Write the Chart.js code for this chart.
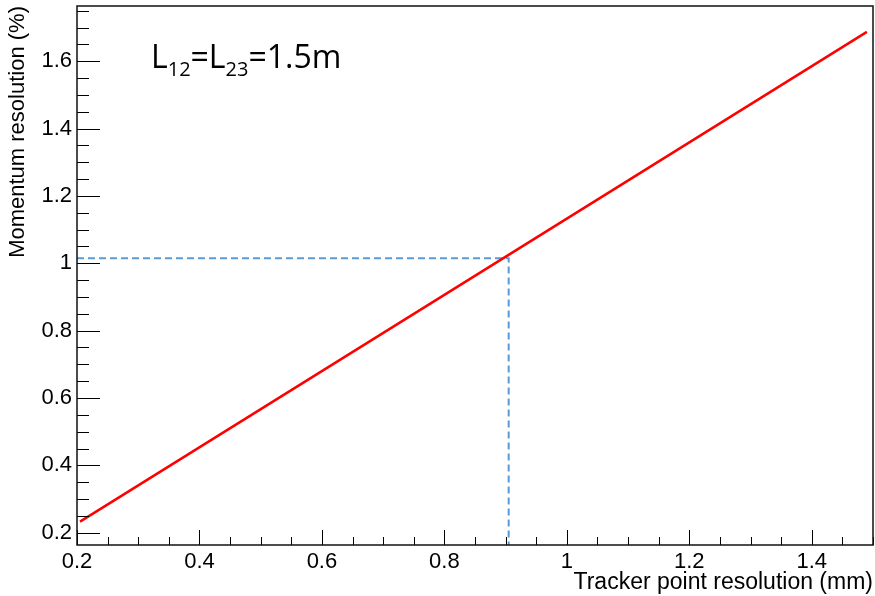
<!DOCTYPE html>
<html>
<head>
<meta charset="utf-8">
<script src="https://cdn.jsdelivr.net/npm/chart.js@4.4.1/dist/chart.umd.min.js"></script>
<style>
  body { margin: 0; background: #fff; }
  #wrap { width: 875px; height: 596px; }
</style>
</head>
<body>
<div id="wrap"><canvas id="resChart" width="875" height="596"></canvas></div>
<script>
// axis ranges and tick labels
const xRange = [0.2, 1.5];
const yRange = [0.1635, 1.764];
const xTicks = [0.2, 0.4, 0.6, 0.8, 1, 1.2, 1.4];
const yTicks = [0.2, 0.4, 0.6, 0.8, 1, 1.2, 1.4, 1.6];
const minorStep = 0.05;

// momentum resolution vs tracker point resolution
const trackerRes = [0.205, 1.49];
const momentumRes = [0.233, 1.687];

// marker lines for the 1% working point
const markX = [0.2, 0.905, 0.905];
const markY = [1.015, 1.015, 0.1635];

const font = "'Liberation Sans', Arial, Helvetica, sans-serif";

function toPoints(xs, ys) {
    return xs.map((x, i) => ({ x: x, y: ys[i] }));
}

// ROOT style: frame plus ticks pointing into the plot
const frameTicks = {
    id: 'frameTicks',
    afterDatasetsDraw(chart) {
        const ctx = chart.ctx;
        const a = chart.chartArea;
        const xs = chart.scales.x, ys = chart.scales.y;
        ctx.save();
        ctx.strokeStyle = '#000';
        ctx.lineWidth = 1;
        for (let v = xRange[0]; v <= xRange[1] + 1e-9; v += minorStep) {
            const major = xTicks.some(t => Math.abs(t - v) < 1e-6);
            const px = Math.round(xs.getPixelForValue(v)) + 0.5;
            const len = major ? 15 : 8;
            ctx.beginPath();
            ctx.moveTo(px, a.bottom);
            ctx.lineTo(px, a.bottom - len);
            ctx.stroke();
        }
        for (let v = 0.2; v <= yRange[1] + 1e-9; v += minorStep) {
            const major = yTicks.some(t => Math.abs(t - v) < 1e-6);
            const py = Math.round(ys.getPixelForValue(v)) + 0.5;
            const len = major ? 23 : 12;
            ctx.beginPath();
            ctx.moveTo(a.left, py);
            ctx.lineTo(a.left + len, py);
            ctx.stroke();
        }
        ctx.lineWidth = 1.5;
        ctx.strokeStyle = '#111';
        ctx.strokeRect(a.left, a.top, a.right - a.left, a.bottom - a.top);
        ctx.restore();
    }
};

// the L12=L23=1.5m label
const labelText = {
    id: 'labelText',
    afterDraw(chart) {
        const ctx = chart.ctx;
        const parts = [
            ['L', false], ['12', true], ['=L', false], ['23', true], ['=1.5m', false]
        ];
        let x = 151;
        const base = 68;
        ctx.save();
        ctx.fillStyle = '#000';
        ctx.textBaseline = 'alphabetic';
        parts.forEach(p => {
            ctx.font = p[1] ? "20px 'Open Sans', sans-serif" : "32px 'Open Sans', sans-serif";
            ctx.fillText(p[0], x, p[1] ? base + 8 : base);
            x += ctx.measureText(p[0]).width;
        });
        ctx.restore();
    }
};

new Chart(document.getElementById('resChart'), {
    type: 'scatter',
    data: {
        datasets: [
            {
                data: toPoints(trackerRes, momentumRes),
                showLine: true,
                borderColor: '#ff0000',
                borderWidth: 2.5,
                pointRadius: 0
            },
            {
                data: toPoints(markX, markY),
                showLine: true,
                borderColor: '#5b9bd5',
                borderWidth: 2,
                borderDash: [7, 4],
                pointRadius: 0
            }
        ]
    },
    options: {
        responsive: false,
        animation: false,
        layout: { padding: { top: 6, right: 2, left: 0, bottom: 0 } },
        plugins: { legend: { display: false }, tooltip: { enabled: false } },
        scales: {
            x: {
                type: 'linear',
                min: xRange[0],
                max: xRange[1],
                afterFit(scale) {
                    scale.height = 51;
                    scale.paddingLeft = 0;
                    scale.paddingRight = 0;
                },
                afterBuildTicks(scale) { scale.ticks = xTicks.map(v => ({ value: v })); },
                grid: { display: false, drawTicks: false },
                border: { display: false },
                ticks: {
                    color: '#000',
                    padding: 4,
                    maxRotation: 0,
                    font: { family: font, size: 22 },
                    callback: v => String(+v.toFixed(2))
                },
                title: {
                    display: true,
                    text: 'Tracker point resolution (mm)',
                    align: 'end',
                    color: '#000',
                    padding: { top: 0, bottom: 0 },
                    font: { family: font, size: 23 }
                }
            },
            y: {
                type: 'linear',
                min: yRange[0],
                max: yRange[1],
                afterFit(scale) {
                    scale.width = 77;
                    scale.paddingTop = 0;
                    scale.paddingBottom = 0;
                },
                afterBuildTicks(scale) { scale.ticks = yTicks.map(v => ({ value: v })); },
                grid: { display: false, drawTicks: false },
                border: { display: false },
                ticks: {
                    color: '#000',
                    padding: 5,
                    font: { family: font, size: 22 },
                    callback: v => String(+v.toFixed(2))
                },
                title: {
                    display: true,
                    text: 'Momentum resolution (%)',
                    align: 'end',
                    color: '#000',
                    padding: { top: 5, bottom: 0 },
                    font: { family: font, size: 22 }
                }
            }
        }
    },
    plugins: [frameTicks, labelText]
});
</script>
</body>
</html>
